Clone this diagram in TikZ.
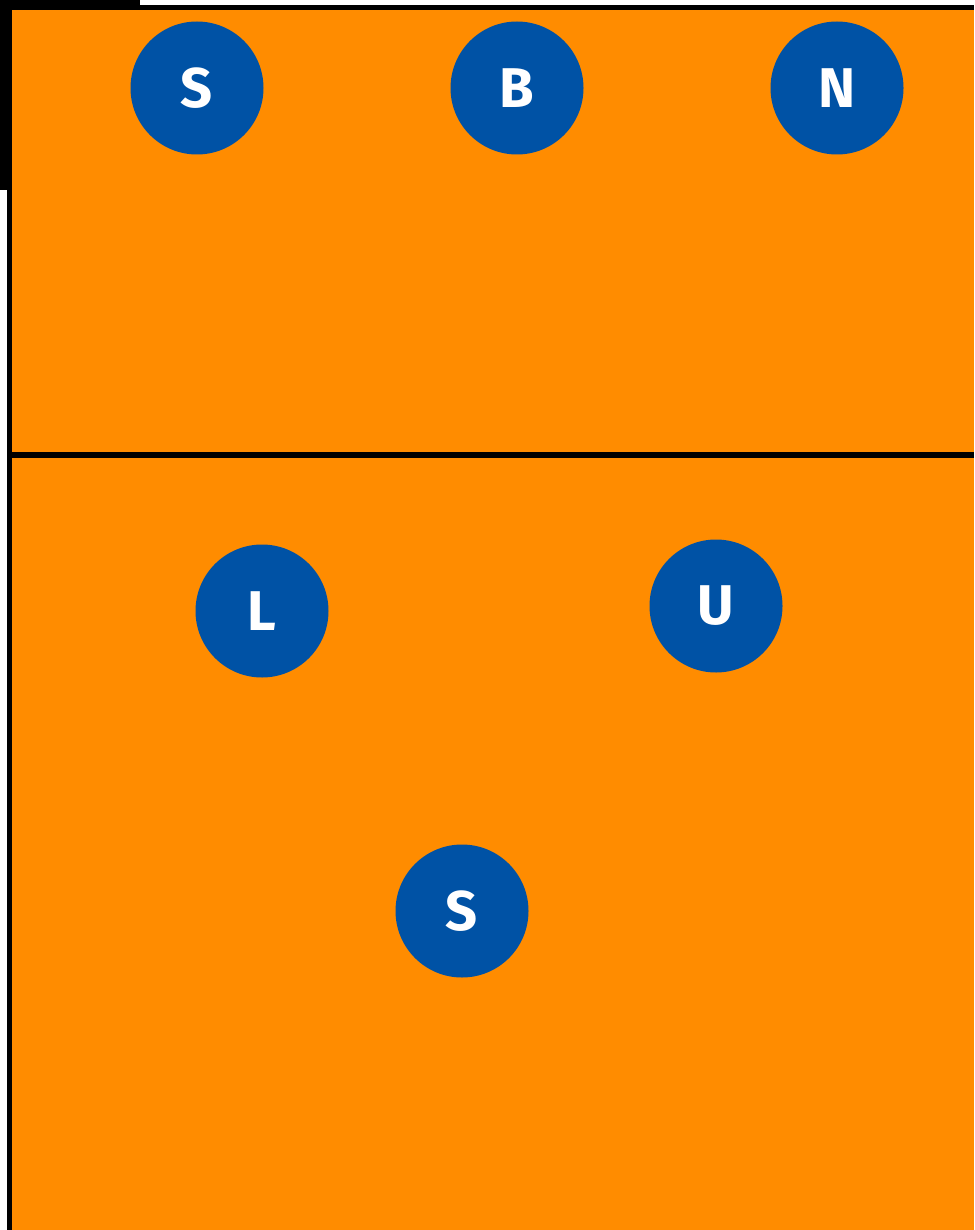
\documentclass[tikz,border=0pt]{standalone}
\usepackage{fontspec}
\setmainfont{Fira Sans}
\definecolor{bg}{HTML}{FF8C00}
\definecolor{blu}{HTML}{0052A5}
\begin{document}
\begin{tikzpicture}[x=1pt,y=-1pt,
  player/.style={circle,fill=blu,minimum size=133pt,inner sep=0pt,text=white,font=\fontsize{56}{56}\selectfont\bfseries}]
\useasboundingbox (0,0) rectangle (974,1230);
\fill[white] (0,0) rectangle (974,1230);
% black frame
\fill[black] (0,0) rectangle (140,10);
\fill[black] (0,5) rectangle (974,10);
\fill[black] (0,0) rectangle (12,190);
\fill[black] (7,190) rectangle (12,1230);
% courts
\fill[bg] (12,10) rectangle (974,452);
\fill[black] (12,452) rectangle (974,458);
\fill[bg] (12,458) rectangle (974,1230);
% players
\node[player] (s1) at (197,88) {S};
\node[player] (b) at (517,88) {B};
\node[player] (n) at (837,88) {N};
\node[player] (l) at (262,611) {L};
\node[player] (u) at (716,606) {U};
\node[player] (s2) at (462,911) {S};
\end{tikzpicture}
\end{document}
